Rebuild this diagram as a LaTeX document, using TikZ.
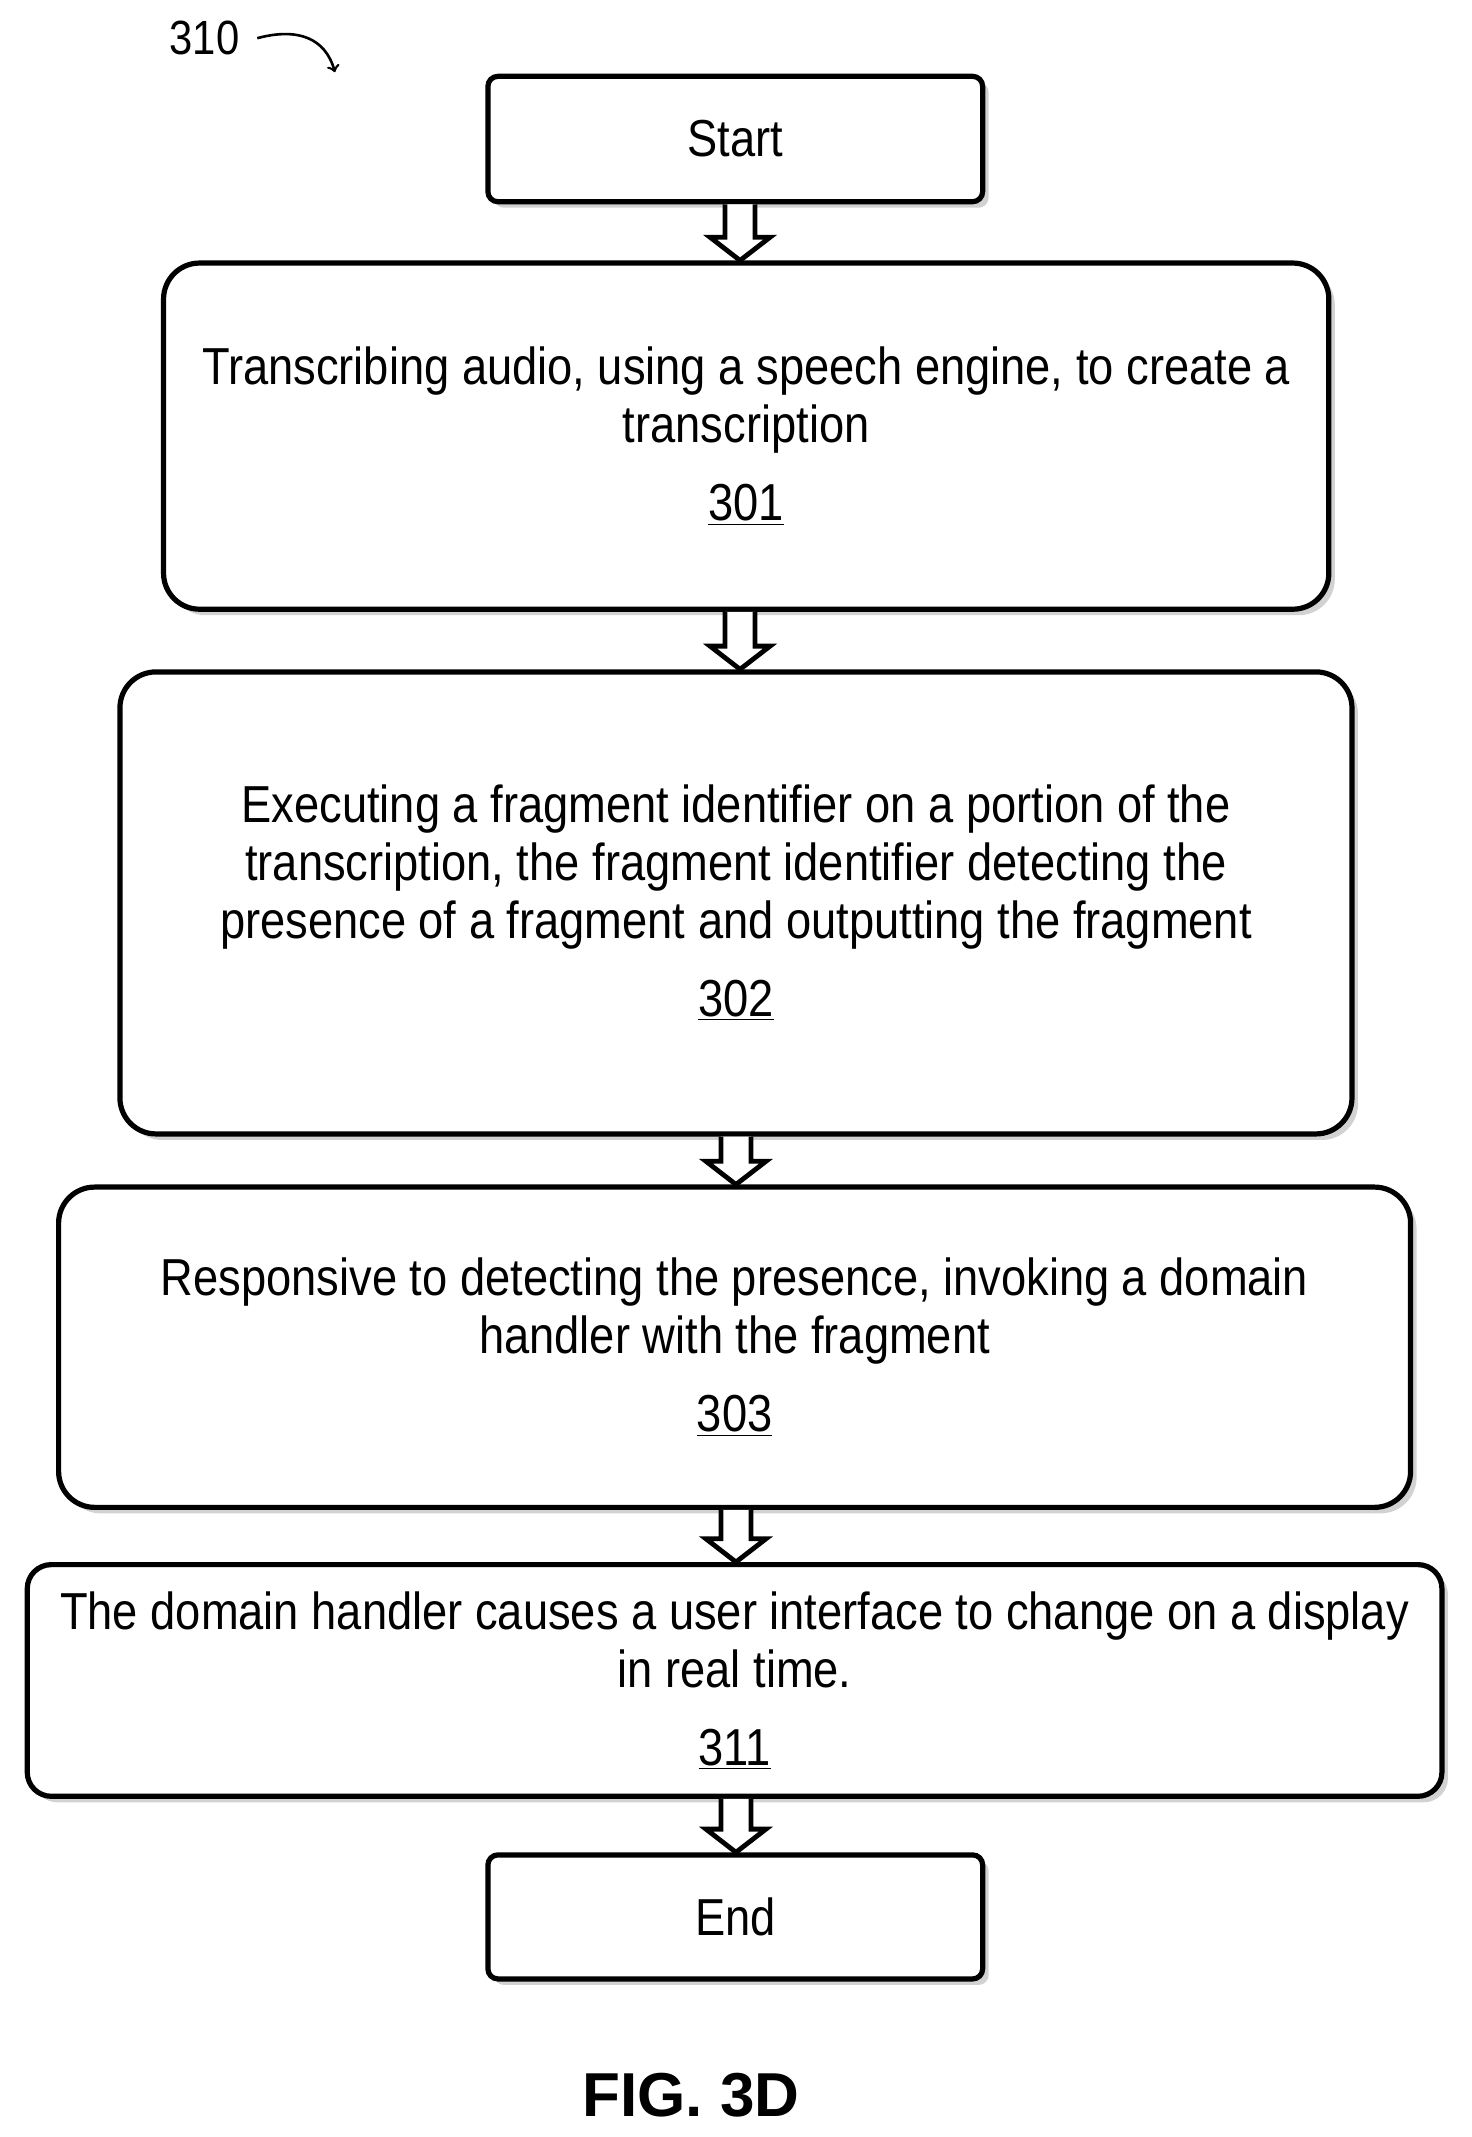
\documentclass[tikz,border=0pt]{standalone}
\usepackage{fontspec}
\setmainfont[FakeStretch=0.87]{Liberation Sans}
\newfontfamily\figfont{Liberation Sans}
\usetikzlibrary{calc,shadows}
\begin{document}
\begin{tikzpicture}[x=0.681pt,y=-0.681pt,
  box/.style={draw,line width=2.6pt,fill=white,rounded corners=18pt,align=center,
    font=\fontsize{26}{29}\selectfont,inner sep=0pt,
    drop shadow={shadow xshift=3pt,shadow yshift=-3pt,fill=black!35}},
  term/.style={box,rounded corners=5pt}]
\useasboundingbox (0,0) rectangle (1080,1568);
\newcommand\barrow[3]{%
  \path let \p1=(#1.south), \p2=(#2.north) in coordinate (t) at (#3,\y1) coordinate (b) at (#3,\y2);
  \draw[line width=2.4pt,fill=white,line join=miter]
    ($(t)+(-11,0)$) -- ($(b)+(-11,-17)$) -- ($(b)+(-22,-17)$) -- (b) -- ($(b)+(22,-17)$)
    -- ($(b)+(11,-17)$) -- ($(t)+(11,0)$);}
\node[term,minimum width=363*0.681pt,minimum height=92*0.681pt] (s) at (539.5,102) {Start};
\node[box,minimum width=855*0.681pt,minimum height=254*0.681pt] (a) at (547.5,320)
  {Transcribing audio, using a speech engine, to create a\\transcription\\[10pt]\underline{301}};
\node[box,minimum width=904*0.681pt,minimum height=339*0.681pt] (b2) at (540,662.5)
  {Executing a fragment identifier on a portion of the\\transcription, the fragment identifier detecting the\\presence of a fragment and outputting the fragment\\[10pt]\underline{302}};
\node[box,minimum width=992*0.681pt,minimum height=235*0.681pt] (c) at (539,988.5)
  {Responsive to detecting the presence, invoking a domain\\handler with the fragment\\[10pt]\underline{303}};
\node[box,rounded corners=12pt,minimum width=1038*0.681pt,minimum height=170*0.681pt] (d) at (539,1233)
  {The domain handler causes a user interface to change on a display\\in real time.\\[10pt]\underline{311}};
\node[term,minimum width=363*0.681pt,minimum height=91*0.681pt] (e) at (539.5,1406.5) {End};
\barrow{s}{a}{543}
\barrow{a}{b2}{543}
\barrow{b2}{c}{540}
\barrow{c}{d}{540}
\barrow{d}{e}{540}
\node[font=\fontsize{24}{26}\selectfont] (lbl) at (150,28) {310};
\draw[line width=1.3pt,->] (lbl.east) ++(8,0) coordinate (q) .. controls ($(q)+(30,-8)$) and ($(q)+(50,0)$) .. ($(q)+(57,25)$);
\node[font=\figfont\bfseries\fontsize{31}{33}\selectfont] (fig) at (507,1537) {FIG. 3D};
\end{tikzpicture}
\end{document}
